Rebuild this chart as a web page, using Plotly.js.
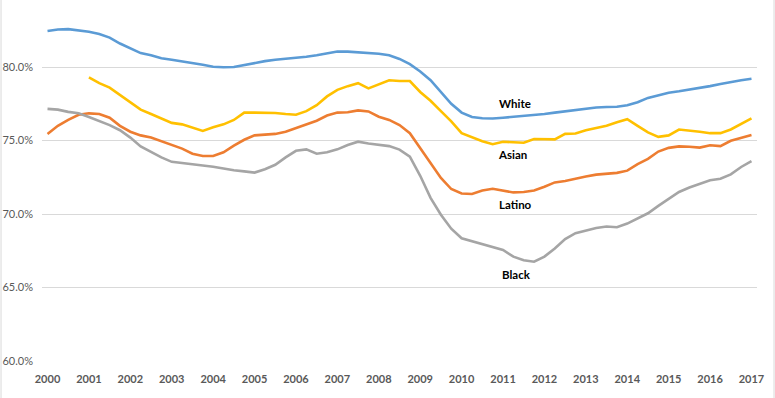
<!DOCTYPE html>
<html>
<head>
<meta charset="utf-8">
<script src="https://cdn.plot.ly/plotly-3.0.1.min.js"></script>
<style>
html,body{margin:0;padding:0;background:#fff;}
#chart{width:775px;height:398px;}
</style>
</head>
<body>
<div id="chart"></div>
<script>
// Quarterly observations, 2000 Q1 .. 2017 Q1 (69 points)
var startYear = 2000;
var yearTicks = [2000,2001,2002,2003,2004,2005,2006,2007,2008,2009,2010,2011,2012,2013,2014,2015,2016,2017];
var yTicks = [60,65,70,75,80];

var white = [
 82.45,82.55,82.58,82.50, 82.40,82.25,82.00,81.60, 81.25,80.95,80.80,80.60,
 80.50,80.40,80.30,80.15, 80.02,79.98,80.00,80.15, 80.30,80.40,80.50,80.55,
 80.60,80.70,80.80,80.95, 81.05,81.05,81.00,80.97, 80.90,80.80,80.55,80.20,
 79.70,79.10,78.30,77.50, 76.90,76.60,76.52,76.50, 76.55,76.60,76.65,76.70,
 76.80,76.90,77.00,77.10, 77.20,77.25,77.28,77.30, 77.40,77.60,77.90,78.10,
 78.25,78.35,78.45,78.55, 78.70,78.85,79.00,79.10, 79.20
];
var asian = [
 null,null,null,null, 79.30,78.90,78.60,78.10, 77.55,77.10,76.80,76.50,
 76.20,76.10,75.90,75.65, 75.90,76.10,76.40,76.90, 76.90,76.90,76.87,76.80,
 76.75,77.00,77.40,78.00, 78.45,78.70,78.90,78.55, 78.80,79.10,79.05,79.05,
 78.30,77.70,77.00,76.30, 75.50,75.20,74.95,74.75, 74.92,74.88,74.85,75.10,
 75.08,75.08,75.45,75.48, 75.70,75.85,76.00,76.25, 76.45,76.00,75.55,75.25,
 75.35,75.75,75.70,75.60, 75.50,75.50,75.75,76.10, 76.50
];
var latino = [
 75.45,76.00,76.40,76.75, 76.85,76.80,76.55,76.00, 75.60,75.35,75.20,74.95,
 74.72,74.45,74.10,73.95, 73.95,74.20,74.65,75.05, 75.35,75.40,75.45,75.60,
 75.85,76.10,76.35,76.70, 76.90,76.92,77.05,76.98, 76.62,76.40,76.05,75.50,
 74.50,73.45,72.45,71.70, 71.40,71.36,71.60,71.72, 71.60,71.47,71.50,71.60,
 71.86,72.15,72.25,72.42, 72.55,72.68,72.75,72.80, 72.95,73.40,73.75,74.25,
 74.50,74.60,74.58,74.52, 74.68,74.62,74.98,75.20, 75.37
];
var black = [
 77.15,77.10,76.95,76.85, 76.60,76.35,76.05,75.70, 75.20,74.60,74.20,73.85,
 73.55,73.45,73.40,73.30, 73.22,73.08,72.98,72.90, 72.82,73.05,73.35,73.85,
 74.30,74.40,74.10,74.20, 74.40,74.70,74.92,74.80, 74.70,74.62,74.38,73.90,
 72.60,71.10,69.95,69.00, 68.35,68.15,67.95,67.80, 67.55,67.10,66.85,66.75,
 67.10,67.65,68.30,68.70, 68.90,69.05,69.15,69.10, 69.35,69.70,70.05,70.55,
 71.00,71.50,71.80,72.05, 72.30,72.40,72.70,73.20, 73.60
];

var quarters = white.map(function(_, i){ return startYear + i/4; });

var names = ['White','Asian','Latino','Black'];
var series = [white, asian, latino, black];
var colors = ['#5B9BD5','#FFC000','#ED7D31','#A5A5A5'];
var labelX = [2011.28, 2011.22, 2011.29, 2011.33];
var labelY = [77.55, 74.03, 70.63, 65.88];

var traces = series.map(function(s, k){
  return {x: quarters, y: s, type:'scatter', mode:'lines', name: names[k],
          line:{color: colors[k], width:2.6, shape:'linear'}, connectgaps:false,
          hoverinfo:'skip'};
});

var annotations = names.map(function(n, k){
  return {x: labelX[k], y: labelY[k], xref:'x', yref:'y', text: n, showarrow:false,
          font:{family:'Lato, "Open Sans", sans-serif', size:11.5, color:'#000', weight:'bold'},
          xanchor:'center', yanchor:'middle'};
});

var layout = {
  width:775, height:398,
  margin:{l:42, r:18, t:0, b:37, pad:0},
  paper_bgcolor:'#ffffff', plot_bgcolor:'#ffffff',
  showlegend:false,
  xaxis:{
    range:[1999.867, 2017.133], tickmode:'array', tickvals: yearTicks,
    ticktext: yearTicks.map(String),
    showgrid:false, zeroline:false, showline:false, ticks:'',
    tickfont:{family:'Lato, "Open Sans", sans-serif', size:11, color:'#595959', weight:'bold'},
    ticklabelstandoff: 10
  },
  yaxis:{
    range:[60, 84.56], tickmode:'array', tickvals: yTicks,
    ticktext: yTicks.map(function(v){return v.toFixed(1)+'%';}),
    showgrid:true, gridcolor:'#d9d9d9', gridwidth:1, zeroline:false, showline:false, ticks:'',
    tickfont:{family:'Lato, "Open Sans", sans-serif', size:11, color:'#595959'},
    ticklabelstandoff: 8
  },
  annotations: annotations,
  shapes:[
    {type:'line', xref:'paper', yref:'paper', x0:-0.0573, x1:-0.0573, y0:-0.2, y1:1.2, line:{color:'#d9d9d9', width:1}},
    {type:'line', xref:'paper', yref:'paper', x0:1.0238, x1:1.0238, y0:-0.2, y1:1.2, line:{color:'#d9d9d9', width:1}}
  ]
};

Plotly.newPlot('chart', traces, layout, {displayModeBar:false, staticPlot:true});
</script>
</body>
</html>
